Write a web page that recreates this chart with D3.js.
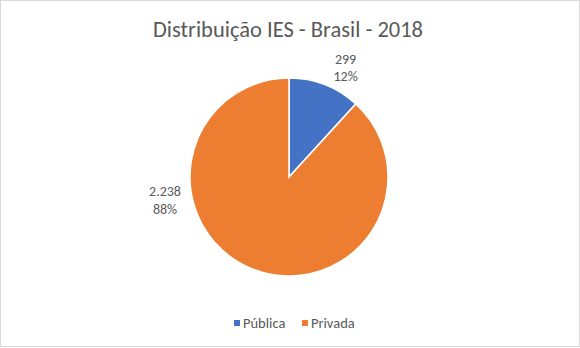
<!DOCTYPE html>
<html>
<head>
<meta charset="utf-8">
<script src="https://cdn.jsdelivr.net/npm/d3@7"></script>
<style>
  html, body { margin: 0; padding: 0; background: #fff; }
  svg { display: block; }
</style>
</head>
<body>
<svg id="chart" width="580" height="348"></svg>
<script>
// Institutions of higher education (IES) in Brazil, 2018
const categories = ["Pública", "Privada"];
const values = [299, 2238];
const valueLabels = ["299", "2.238"];
const percentLabels = ["12%", "88%"];
const colors = ["#4472C4", "#ED7D31"];
const title = "Distribuição IES - Brasil - 2018";

const W = 580, H = 348;
const svg = d3.select("#chart");
const font = "Carlito, 'Open Sans', 'Noto Sans', sans-serif";
const textColor = "#595959";

// chart frame
svg.append("rect")
  .attr("x", 0.5).attr("y", 0.5)
  .attr("width", W - 1).attr("height", H - 2)
  .attr("fill", "#fff").attr("stroke", "#d9d9d9");

// title
svg.append("text")
  .attr("x", 288).attr("y", 37)
  .attr("text-anchor", "middle")
  .attr("font-family", font)
  .attr("font-size", 22.5)
  .attr("fill", textColor)
  .text(title);

// pie
const cx = 289, cy = 177, r = 99;
const pie = d3.pie().sort(null).value(d => d)(values);
const arc = d3.arc().innerRadius(0).outerRadius(r);
const g = svg.append("g").attr("transform", `translate(${cx},${cy})`);

g.selectAll("path")
  .data(pie)
  .join("path")
  .attr("d", arc)
  .attr("fill", (d, i) => colors[i])
  .attr("stroke", "#fff")
  .attr("stroke-width", 1.5);

// data labels: small slice outside along its mid angle, large slice to the left
function labelPos(d, i) {
  if (i === 0) {
    const [x, y] = d3.arc().innerRadius(r + 13).outerRadius(r + 13).centroid(d);
    return [x + 16, y];
  }
  return [-(r + 25), 28];
}

const labels = g.selectAll("g.lbl")
  .data(pie)
  .join("g")
  .attr("class", "lbl")
  .attr("transform", (d, i) => `translate(${labelPos(d, i)})`);

labels.append("text")
  .attr("text-anchor", "middle")
  .attr("font-family", font)
  .attr("font-size", 14)
  .attr("fill", textColor)
  .attr("y", -8.6)
  .text((d, i) => valueLabels[i]);

labels.append("text")
  .attr("text-anchor", "middle")
  .attr("font-family", font)
  .attr("font-size", 14)
  .attr("fill", textColor)
  .attr("y", 8.6)
  .text((d, i) => percentLabels[i]);

// legend
const legendX = [234, 302];
const legend = svg.append("g");
categories.forEach((c, i) => {
  legend.append("rect")
    .attr("x", legendX[i]).attr("y", 320)
    .attr("width", 6).attr("height", 6)
    .attr("fill", colors[i]);
  legend.append("text")
    .attr("x", legendX[i] + 9).attr("y", 328)
    .attr("font-family", font)
    .attr("font-size", 14.5)
    .attr("fill", textColor)
    .text(c);
});
</script>
</body>
</html>
